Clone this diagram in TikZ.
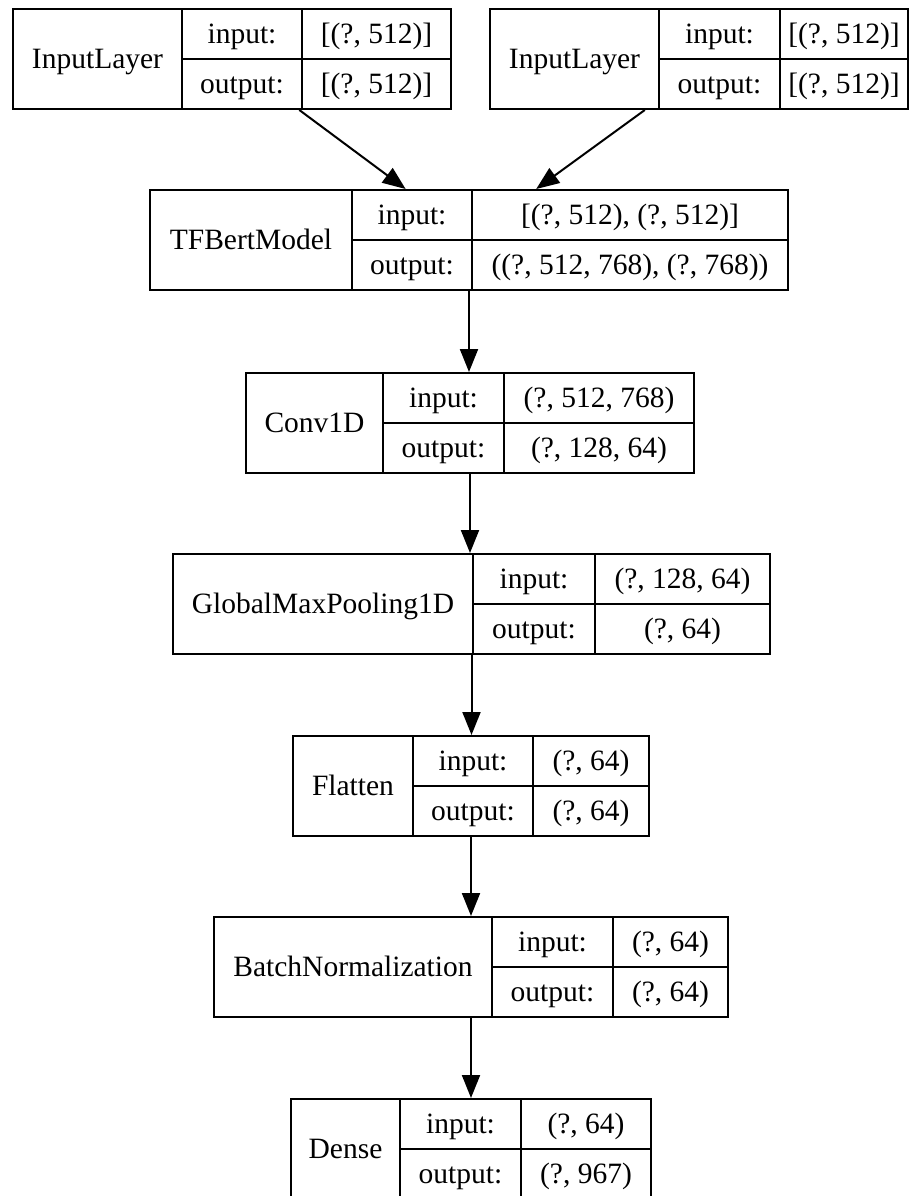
\documentclass[tikz,border=0pt]{standalone}
\usepackage{fontspec}
\setmainfont{Liberation Serif}
\usetikzlibrary{arrows.meta,calc}
\tikzset{
  cell/.style={draw=black, line width=2pt, rectangle, inner sep=0pt, anchor=north west, align=center,
    text height=19pt, text depth=0pt, font=\fontsize{29.5}{34}\selectfont},
  whole/.style={draw=black, line width=2pt, rectangle, inner sep=0pt, anchor=north west},
  arr/.style={draw=black, line width=2pt, -{Triangle[length=23pt,width=18pt]}, shorten >=0pt}
}
% #1 name, #2 x0, #3 x1, #4 x2, #5 x3, #6 ytop, #7 label, #8 input, #9 output
\newcommand\keraslayer[9]{%
  \node[whole, minimum width={(#5-#2)*1pt}, minimum height=100pt] (#1) at (#2,#6) {};
  \node[cell, minimum width={(#3-#2)*1pt}, minimum height=100pt] (#1-name) at (#2,#6) {#7};
  \node[cell, minimum width={(#4-#3)*1pt}, minimum height=50pt] (#1-in) at (#3,#6) {input:};
  \node[cell, minimum width={(#4-#3)*1pt}, minimum height=50pt] (#1-out) at (#3,#6+50) {output:};
  \node[cell, minimum width={(#5-#4)*1pt}, minimum height=50pt] (#1-iv) at (#4,#6) {#8};
  \node[cell, minimum width={(#5-#4)*1pt}, minimum height=50pt] (#1-ov) at (#4,#6+50) {#9};
}
\begin{document}
\begin{tikzpicture}[x=1pt,y=-1pt]
\useasboundingbox (0,0) rectangle (919,1196);
\clip (0,0) rectangle (919,1196);
\fill[white] (0,0) rectangle (919,1196);

\keraslayer{in1}{12}{181}{301}{450}{8}{InputLayer}{[(?, 512)]}{[(?, 512)]}
\keraslayer{in2}{489}{658}{779}{907}{8}{InputLayer}{[(?, 512)]}{[(?, 512)]}
\keraslayer{bert}{149}{351}{471}{787}{189}{TFBertModel}{[(?, 512), (?, 512)]}{((?, 512, 768), (?, 768))}
\keraslayer{conv}{245}{382}{503}{693}{372}{Conv1D}{(?, 512, 768)}{(?, 128, 64)}
\keraslayer{gmp}{172}{472}{594}{769}{553}{GlobalMaxPooling1D}{(?, 128, 64)}{(?, 64)}
\keraslayer{flat}{292}{412}{532}{648}{735}{Flatten}{(?, 64)}{(?, 64)}
\keraslayer{bn}{213}{491}{612}{727}{916}{BatchNormalization}{(?, 64)}{(?, 64)}
\keraslayer{dense}{290}{399}{520}{650}{1098}{Dense}{(?, 64)}{(?, 967)}

\draw[arr] ($(in1.south west)!0.653!(in1.south east)$) -- ($(bert.north west)!0.401!(bert.north east)$);
\draw[arr] ($(in2.south west)!0.371!(in2.south east)$) -- ($(bert.north west)!0.605!(bert.north east)$);
\draw[arr] (bert.south) -- (bert.south |- conv.north);
\draw[arr] (conv.south) -- (conv.south |- gmp.north);
\draw[arr] (gmp.south) -- (gmp.south |- flat.north);
\draw[arr] (flat.south) -- (flat.south |- bn.north);
\draw[arr] (bn.south) -- (bn.south |- dense.north);
\end{tikzpicture}
\end{document}
